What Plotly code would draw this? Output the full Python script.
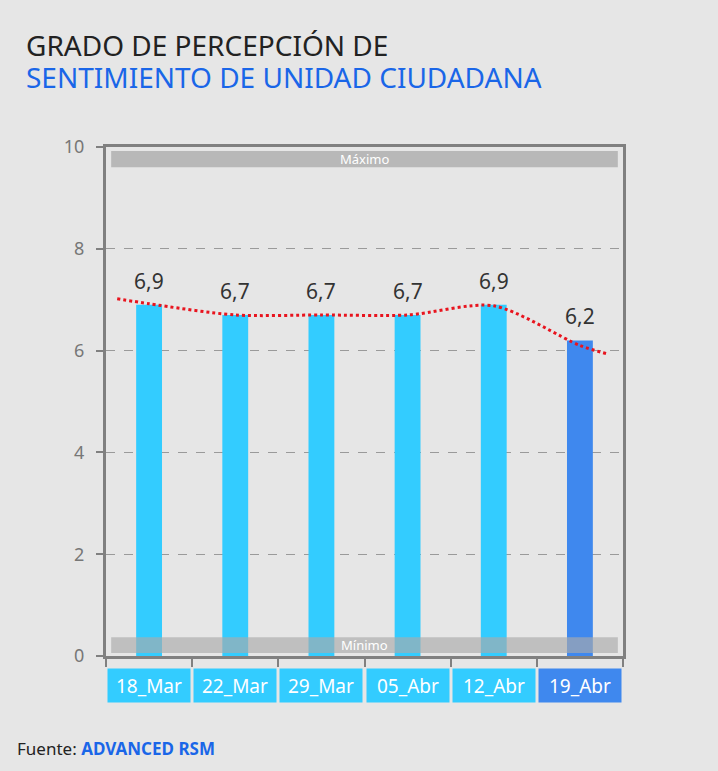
import plotly.graph_objects as go

categories = ["18_Mar", "22_Mar", "29_Mar", "05_Abr", "12_Abr", "19_Abr"]
values = [6.9, 6.7, 6.7, 6.7, 6.9, 6.2]
bar_colors = ["#33CCFF", "#33CCFF", "#33CCFF", "#33CCFF", "#33CCFF", "#3F88EE"]
trend_x = [-0.37, 0, 1, 2, 3, 4, 5, 5.33]
trend_y = [7.02, 6.92, 6.70, 6.70, 6.70, 6.88, 6.10, 5.93]
y_ticks = [0, 2, 4, 6, 8, 10]
band_max = [9.6, 9.92]
band_min = [0.06, 0.37]

FONT = "Noto Sans"
BG = "#E6E6E6"
W, H = 718, 771
L, R, T, B = 106, 95, 147, 115
PW, PH = W - L - R, H - T - B


def px_x(x):
    return (x - L) / PW


def px_y(y):
    return (H - B - y) / PH


xs = list(range(len(categories)))

fig = go.Figure()
fig.add_trace(go.Bar(x=xs, y=values, width=0.3, marker=dict(color=bar_colors, line=dict(width=0)),
                     hoverinfo="skip"))
fig.add_trace(go.Scatter(x=trend_x, y=trend_y, mode="lines",
                         line=dict(color="#E8141E", width=3, dash="dot", shape="spline", smoothing=0.8),
                         hoverinfo="skip"))

annotations = []
for i, v in enumerate(values):
    annotations.append(dict(x=i, y=v, xref="x", yref="y", text=f"{v:.1f}".replace(".", ","), showarrow=False,
                            yanchor="bottom", yshift=8, font=dict(family=FONT, size=21, color="#333333")))
for i, c in enumerate(categories):
    annotations.append(dict(x=i, y=0, xref="x", yref="paper", text=c, showarrow=False, yanchor="top", yshift=-12,
                            width=82, height=33, borderpad=0, bgcolor=bar_colors[i],
                            font=dict(family=FONT, size=19, color="white")))
annotations.append(dict(x=0.5, y=sum(band_max) / 2, xref="paper", yref="y", text="Máximo", showarrow=False,
                        font=dict(family=FONT, size=13, color="white")))
annotations.append(dict(x=0.5, y=sum(band_min) / 2, xref="paper", yref="y", text="Mínimo", showarrow=False,
                        font=dict(family=FONT, size=13, color="white")))
annotations.append(dict(x=px_x(25), y=px_y(45), xref="paper", yref="paper", xanchor="left", yanchor="middle",
                        text="GRADO DE PERCEPCIÓN DE", showarrow=False, height=30, borderpad=0,
                        font=dict(family=FONT, size=28, color="#222222")))
annotations.append(dict(x=px_x(25), y=px_y(77), xref="paper", yref="paper", xanchor="left", yanchor="middle",
                        text="SENTIMIENTO DE UNIDAD CIUDADANA", showarrow=False, height=30, borderpad=0,
                        font=dict(family=FONT, size=28, color="#1A66E8")))
annotations.append(dict(x=px_x(15), y=px_y(748), xref="paper", yref="paper", xanchor="left", yanchor="middle",
                        text="Fuente: <b><span style='color:#1A66E8'>ADVANCED RSM</span></b>", showarrow=False,
                        font=dict(family=FONT, size=17, color="#222222")))

shapes = [
    dict(type="rect", xref="paper", yref="y", x0=0.01, x1=0.99, y0=band_max[0], y1=band_max[1],
         fillcolor="#B8B8B8", line=dict(width=0), layer="above"),
    dict(type="rect", xref="paper", yref="y", x0=0.01, x1=0.99, y0=band_min[0], y1=band_min[1],
         fillcolor="rgba(170,170,170,0.65)", line=dict(width=0), layer="above"),
]

fig.update_layout(
    width=W, height=H,
    margin=dict(l=L, r=R, t=T, b=B),
    paper_bgcolor=BG, plot_bgcolor=BG,
    showlegend=False,
    font=dict(family=FONT),
    annotations=annotations,
    shapes=shapes,
    xaxis=dict(range=[-0.5, 5.5], tickvals=[i - 0.5 for i in range(len(categories) + 1)], ticktext=[""] * 7,
               ticks="outside", ticklen=8, tickwidth=2, tickcolor="#808080",
               showline=True, linewidth=3, linecolor="#808080", mirror=True, showgrid=False, zeroline=False,
               fixedrange=True),
    yaxis=dict(range=[0, 10], tickvals=y_ticks, ticks="outside", ticklen=7, tickwidth=2, tickcolor="#808080",
               showline=True, linewidth=3, linecolor="#808080", mirror=True,
               showgrid=True, gridcolor="#9A9A9A", griddash="dash", gridwidth=1, zeroline=False,
               tickfont=dict(family=FONT, size=18, color="#777777"), ticklabelstandoff=8),
)

fig.write_html("out.html", config={"displayModeBar": False},
               post_script="document.body.style.margin='0';document.body.style.background='#E6E6E6';")
